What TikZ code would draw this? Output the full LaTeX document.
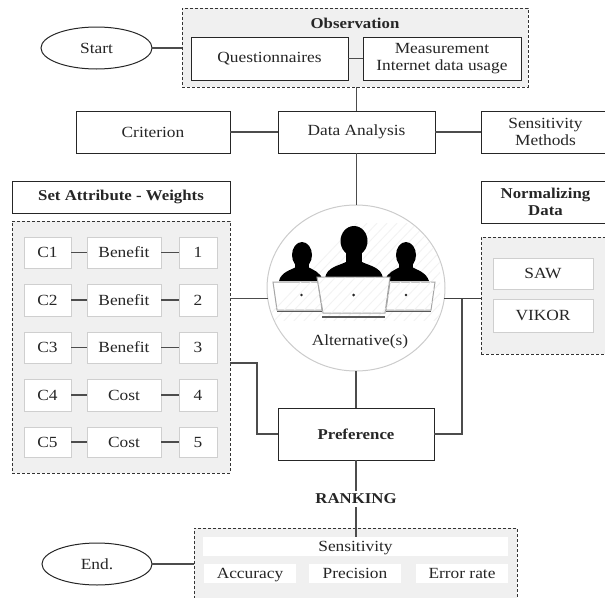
\documentclass[tikz,border=0pt]{standalone}
\usepackage{fontspec}
\setmainfont{Liberation Serif}[FakeStretch=1.12]
\usetikzlibrary{shapes.geometric}
\definecolor{txt}{HTML}{262626}
\definecolor{panelfill}{HTML}{F0F0F0}
\definecolor{innerline}{HTML}{CFCFCF}
\definecolor{hatchc}{HTML}{F2F2F2}
\tikzset{
  base/.style={align=center,inner sep=0pt,outer sep=0pt,text=txt,font=\fontsize{15.5}{17.5}\selectfont},
  solidbox/.style={base,draw=black!85,line width=1pt,fill=white},
  panel/.style={base,draw=black!80,line width=0.9pt,densely dashed,fill=panelfill},
  innerbox/.style={base,draw=innerline,line width=1pt,fill=white,text height=10pt,text depth=0pt},
  whitebar/.style={base,fill=white,text height=10pt,text depth=0pt},
  oval/.style={base,draw=black!85,line width=1pt,fill=white,ellipse},
  link/.style={draw=black!70,line width=1.3pt},
  thinlink/.style={draw=black!75,line width=1.1pt},
  label/.style={base},
  bold/.style={font=\fontsize{15}{17.5}\selectfont\bfseries},
  hatchline/.style={draw=hatchc,line width=0.8pt},
  laptop/.style={draw=black!35,line width=1pt,fill=white},
  laptopbase/.style={draw=black!65,line width=1.4pt}
}
\newcommand{\bx}[7]{\node[#1,minimum width={(#5-#3)*1pt},minimum height={(#6-#4)*1pt}] (#2) at ({(#3+#5)/2},{(#4+#6)/2}) {#7};}
\newcommand{\hatchlines}{\foreach \k in {0,10,...,280}{\draw[hatchline] ({260+\k},325) -- ({260+\k+100},220);}}
\newcommand{\boldtext}{\fontsize{15}{17.5}\selectfont\bfseries}
\begin{document}
\begin{tikzpicture}[x=1pt,y=-1pt]
\useasboundingbox (0,0) rectangle (605,597);
% top
\bx{panel}{obs}{182}{8}{528}{87}{}
\node[label,bold] (obst) at (355,23) {Observation};
\bx{solidbox}{quest}{191}{37}{348}{80}{Questionnaires}
\bx{solidbox}{meas}{363}{37}{521}{80}{Measurement\\Internet data usage}
\bx{oval}{start}{41}{27}{152}{69}{Start}
\bx{solidbox}{data}{278}{111}{435}{153}{Data Analysis}
\bx{solidbox}{crit}{76}{111}{230}{153}{Criterion}
\bx{solidbox}{sens}{481}{111}{610}{153}{Sensitivity\\Methods}
% left
\bx{solidbox}{setattr}{12}{181}{230}{213}{\boldtext Set Attribute - Weights}
\bx{panel}{wpanel}{12}{221}{230}{473}{}
\foreach \n/\ya/\yb/\kind in {1/237/268/Benefit,2/284/316/Benefit,3/332/363/Benefit,4/379/411/Cost,5/427/457/Cost}{
  \bx{innerbox}{c\n}{24}{\ya}{71}{\yb}{C\n}
  \bx{innerbox}{k\n}{87}{\ya}{161}{\yb}{\kind}
  \bx{innerbox}{w\n}{179}{\ya}{217}{\yb}{\n}
  \draw[link] (c\n) -- (k\n);
  \draw[link] (k\n) -- (w\n);
}
% right
\bx{solidbox}{norm}{481}{181}{610}{223}{\boldtext Normalizing\\\boldtext Data}
\bx{panel}{npanel}{481}{237}{610}{354}{}
\bx{innerbox}{saw}{493}{258}{593}{289}{SAW}
\bx{innerbox}{vikor}{493}{299}{593}{332}{VIKOR}
% centre
\bx{base,draw=black!20,line width=1pt,fill=white,ellipse}{alt}{267}{205}{445}{371}{}
\begin{scope}
  \clip (356,288) ellipse [x radius=88,y radius=82];
  \clip (267,223) rectangle (440,320);
  \hatchlines
\end{scope}
% people
\fill[black] (302,255) ellipse [x radius=10,y radius=13];
\fill[black] (295,262) rectangle (309,272);
\fill[black] (279,281) .. controls (281,272) and (291,270) .. (296,267) -- (308,267) .. controls (313,270) and (321,272) .. (323,281) -- cycle;
\fill[black] (406,255) ellipse [x radius=10,y radius=13];
\fill[black] (399,262) rectangle (413,272);
\fill[black] (385,281) .. controls (387,272) and (395,270) .. (400,267) -- (412,267) .. controls (417,270) and (426,272) .. (429,281) -- cycle;
\fill[black] (354,241) ellipse [x radius=13.5,y radius=15];
\fill[black] (346,250) rectangle (362,266);
\fill[black] (325,278) .. controls (327,267) and (338,266) .. (346,262) -- (362,262) .. controls (370,266) and (381,267) .. (383,278) -- cycle;
% laptops
\draw[laptop] (273,282) -- (318,282) -- (322,310) -- (277,310) -- cycle;
\begin{scope}
  \clip (273,282) -- (318,282) -- (322,310) -- (277,310) -- cycle;
  \hatchlines
\end{scope}
\draw[laptop] (390,282) -- (435,282) -- (431,310) -- (386,310) -- cycle;
\begin{scope}
  \clip (390,282) -- (435,282) -- (431,310) -- (386,310) -- cycle;
  \hatchlines
\end{scope}
\draw[laptop] (317,277) -- (390,277) -- (385,313) -- (323,313) -- cycle;
\begin{scope}
  \clip (317.5,277.5) -- (389.5,277.5) -- (385,313) -- (323,313) -- cycle;
  \hatchlines
\end{scope}
\draw[laptopbase] (277,311.5) -- (322,311.5);
\draw[laptopbase] (386,311.5) -- (431,311.5);
\draw[laptopbase,line width=1.6pt] (322,317) -- (385,317);
\fill[black!85] (301.5,295) circle (1.3);
\fill[black!85] (353.5,295) circle (1.5);
\fill[black!85] (406,295) circle (1.3);
\node[label] (alttext) at (360,342) {Alternative(s)};
% preference
\bx{solidbox}{pref}{278}{408}{434}{460}{\boldtext Preference}
\node[label,bold,fill=white,inner ysep=3pt] (rank) at (356,499) {RANKING};
% bottom
\bx{panel}{res}{194}{528}{517}{604}{}
\bx{whitebar}{sensi}{203}{537}{508}{556}{Sensitivity}
\bx{whitebar}{acc}{204}{564}{296}{583}{Accuracy}
\bx{whitebar}{prec}{309}{564}{401}{583}{Precision}
\bx{whitebar}{err}{416}{564}{508}{583}{Error rate}
\bx{oval}{endn}{42}{543}{152}{585}{End.}
% connectors
\draw[link] (start.east) -- (start.east -| obs.west);
\draw[link] (quest) -- (meas);
\draw[link] (data.north) -- (data.north |- obs.south);
\draw[link] (crit) -- (data);
\draw[link] (data) -- (sens);
\draw[link] (data.south) -- (data.south |- alt.north);
\draw[link] (alt.187.7) -- (alt.187.7 -| wpanel.east);
\draw[thinlink] (alt.-7.7) -- (alt.-7.7 -| npanel.west);
\coordinate (jr) at (462,299);
\draw[link] (pref.east) -| (jr);
\coordinate (jl) at (230,363);
\coordinate (jlb) at (257,363);
\draw[link] (jl) -- (jlb) |- (pref.west);
\draw[link] (pref.north -| rank) -- (rank |- alt.south);
\draw[link] (pref.south -| rank) -- (rank.north);
\draw[link] (rank.south) -- (rank |- sensi.north);
\draw[link] (endn.east) -- (endn.east -| res.west);
\end{tikzpicture}
\end{document}
